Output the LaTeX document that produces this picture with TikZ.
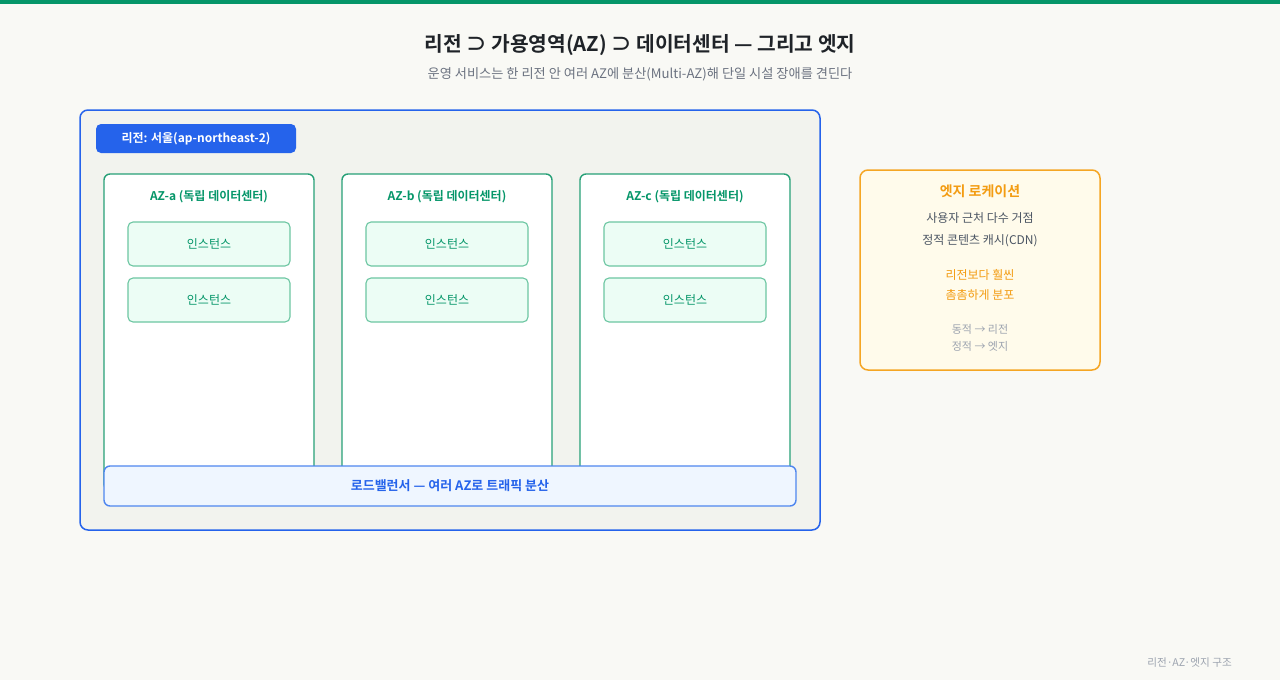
\documentclass[tikz,border=0pt]{standalone}
\usepackage{fontspec}
\setmainfont{Noto Sans CJK KR}
\newfontfamily\kb{Noto Sans CJK KR Bold}
\usetikzlibrary{positioning}
\definecolor{bgc}{HTML}{F9F9F5}
\definecolor{topg}{HTML}{059669}
\definecolor{ttl}{HTML}{1F2328}
\definecolor{sub}{HTML}{6B7280}
\definecolor{regfill}{HTML}{F2F3EE}
\definecolor{blue}{HTML}{2563EB}
\definecolor{azline}{HTML}{27A077}
\definecolor{azt}{HTML}{059669}
\definecolor{insfill}{HTML}{ECFDF5}
\definecolor{insline}{HTML}{6CC6A2}
\definecolor{lbfill}{HTML}{EFF6FF}
\definecolor{lbline}{HTML}{4F86EF}
\definecolor{edgefill}{HTML}{FFFBEB}
\definecolor{edgeline}{HTML}{F5A623}
\definecolor{orng}{HTML}{F39C12}
\definecolor{dgray}{HTML}{4B5563}
\definecolor{lgray}{HTML}{9CA3AF}
\tikzset{
  box/.style={rounded corners=6pt, line width=1.5pt},
  azbox/.style={box, draw=azline, fill=white, line width=1.4pt},
  insbox/.style={draw=insline, fill=insfill, rounded corners=5pt, line width=1.1pt, minimum width=162pt, minimum height=44pt, inner sep=0pt, font=\fontsize{12}{14}\selectfont, text=azt},
  aztitle/.style={font=\kb\fontsize{12}{15}\selectfont, text=azt, inner sep=0pt},
  tx/.style={inner sep=0pt, yshift=-1.5pt},
}
\begin{document}
\begin{tikzpicture}[x=1pt,y=-1pt]
\fill[bgc] (0,0) rectangle (1280,680);
\useasboundingbox (0,0) rectangle (1280,680);
\fill[topg] (0,0) rectangle (1280,4);
\node[tx, text=ttl, font=\kb\fontsize{20.3}{24}\selectfont] (title) at (640,44) {리전 ⊃ 가용영역(AZ) ⊃ 데이터센터 — 그리고 엣지};
\node[tx, text=sub, font=\fontsize{13.2}{15}\selectfont] (subtitle) at (640,73) {운영 서비스는 한 리전 안 여러 AZ에 분산(Multi-AZ)해 단일 시설 장애를 견딘다};
% region
\draw[box, draw=blue, fill=regfill, rounded corners=8pt] (80,110) rectangle (820,530);
\node[fill=blue, rounded corners=5pt, minimum width=200pt, minimum height=29pt, inner sep=0pt, text=white, font=\kb\fontsize{12}{15}\selectfont] (reglabel) at (196,138.5) {\raisebox{-1.5pt}{리전: 서울(ap-northeast-2)}};
% AZs
\foreach \x/\n/\t in {104/a/AZ-a, 342/b/AZ-b, 580/c/AZ-c}{
  \draw[azbox] (\x,174) rectangle (\x+210,490);
  \node[aztitle, yshift=-1.5pt] (az\n) at (\x+105,195) {\t{} (독립 데이터센터)};
  \node[insbox] (i\n1) at (\x+105,244) {\raisebox{-1.2pt}{인스턴스}};
  \node[insbox] (i\n2) at (\x+105,300) {\raisebox{-1.2pt}{인스턴스}};
}
% LB
\node[draw=lbline, fill=lbfill, rounded corners=6pt, line width=1.4pt, minimum width=692pt, minimum height=40pt, inner sep=0pt, text=blue, font=\kb\fontsize{13}{15}\selectfont] (lb) at (450,486) {\raisebox{-1.2pt}{로드밸런서 — 여러 AZ로 트래픽 분산}};
% edge
\draw[box, draw=edgeline, fill=edgefill, rounded corners=8pt] (860,170) rectangle (1100,370);
\node[tx, text=orng, font=\kb\fontsize{14}{16}\selectfont] (et) at (980,190) {엣지 로케이션};
\node[tx, text=dgray, font=\fontsize{12}{14}\selectfont] (e1) at (980,217) {사용자 근처 다수 거점};
\node[tx, text=dgray, font=\fontsize{12}{14}\selectfont] (e2) at (980,239) {정적 콘텐츠 캐시(CDN)};
\node[tx, text=orng, font=\fontsize{12}{14}\selectfont] (e3) at (980,273) {리전보다 훨씬};
\node[tx, text=orng, font=\fontsize{12}{14}\selectfont] (e4) at (980,293) {촘촘하게 분포};
\node[tx, text=lgray, font=\fontsize{11}{13}\selectfont] (e5) at (980,328) {동적 → 리전};
\node[tx, text=lgray, font=\fontsize{11}{13}\selectfont] (e6) at (980,345) {정적 → 엣지};
\node[tx, anchor=east, text=lgray, font=\fontsize{10.6}{13}\selectfont] (foot) at (1232,661) {리전·AZ·엣지 구조};
\end{tikzpicture}
\end{document}
